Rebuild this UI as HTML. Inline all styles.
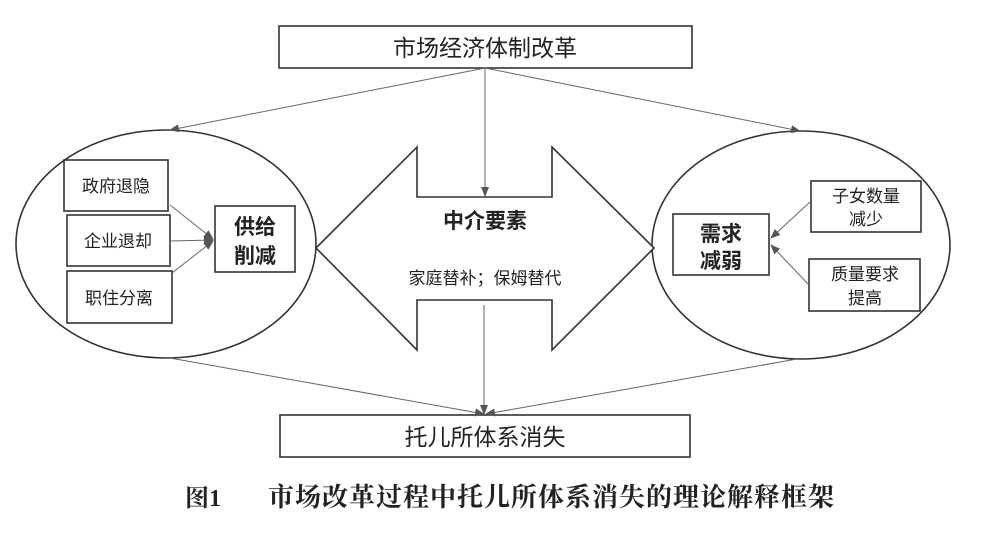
<!DOCTYPE html>
<html><head><meta charset="utf-8"><style>
html,body{margin:0;padding:0;background:#fff;}
svg{display:block;}
text{font-family:"Liberation Sans","Noto Sans CJK SC",sans-serif;fill:#222;}
</style></head><body>
<svg width="999" height="538" viewBox="0 0 999 538" xmlns="http://www.w3.org/2000/svg">
<defs>
<marker id="ah" markerWidth="10" markerHeight="8" refX="9" refY="4" orient="auto" markerUnits="userSpaceOnUse">
<path d="M0,0 L10,4 L0,8 Z" fill="#555"/></marker>
</defs>
<g stroke="#333" stroke-width="1.6" fill="none">
<rect x="279" y="26" width="413" height="42" fill="#fff"/>
<rect x="280" y="415" width="410" height="42" fill="#fff"/>
<ellipse cx="166" cy="244" rx="150" ry="114"/>
<ellipse cx="801" cy="245" rx="149" ry="114"/>
<path d="M316,248 L417,147 L417,197 L552,197 L552,147 L654,248 L552,350 L552,300 L417,300 L417,350 Z" fill="#fff"/>
<rect x="64" y="160" width="104" height="51"/>
<rect x="67" y="215" width="103" height="51"/>
<rect x="67" y="271" width="105" height="52"/>
<rect x="215" y="206" width="80" height="66"/>
<rect x="673" y="214" width="96" height="61"/>
<rect x="811" y="181" width="110" height="51"/>
<rect x="809" y="259" width="111" height="52"/>
</g>
<g stroke="#666" stroke-width="1" fill="none" marker-end="url(#ah)">
<line x1="485" y1="68" x2="170" y2="130"/>
<line x1="485" y1="68" x2="800" y2="131"/>
<line x1="485" y1="68" x2="485" y2="196"/>
<line x1="170" y1="358" x2="484" y2="414"/>
<line x1="797" y1="359" x2="486" y2="414"/>
<line x1="484" y1="305" x2="484" y2="414"/>
<line x1="170" y1="205" x2="213" y2="239"/>
<line x1="170" y1="241" x2="213" y2="240"/>
<line x1="172" y1="273" x2="213" y2="241"/>
<line x1="810" y1="202" x2="771" y2="238"/>
<line x1="809" y1="285" x2="771" y2="245"/>
</g>
<g font-size="23" text-anchor="middle">
<text x="485" y="56">市场经济体制改革</text>
<text x="485" y="445">托儿所体系消失</text>
</g>
<g font-size="17" text-anchor="middle">
<text x="116" y="192">政府退隐</text>
<text x="118" y="247">企业退却</text>
<text x="119" y="304">职住分离</text>
<text x="866" y="202">子女数量</text>
<text x="866" y="225">减少</text>
<text x="865" y="280">质量要求</text>
<text x="865" y="304">提高</text>
<text x="485" y="284">家庭替补；保姆替代</text>
</g>
<g font-size="21" font-weight="bold" text-anchor="middle">
<text x="255" y="234">供给</text>
<text x="255" y="263">削减</text>
<text x="721" y="241">需求</text>
<text x="721" y="268">减弱</text>
<text x="485" y="228">中介要素</text>
</g>
<text x="185" y="506" font-size="24" font-weight="bold" style="font-family:'Liberation Serif','Noto Serif CJK SC',serif">图1</text>
<text x="268" y="506" font-size="26" font-weight="bold" letter-spacing="1" style="font-family:'Liberation Serif','Noto Serif CJK SC',serif">市场改革过程中托儿所体系消失的理论解释框架</text>
</svg>
</body></html>
